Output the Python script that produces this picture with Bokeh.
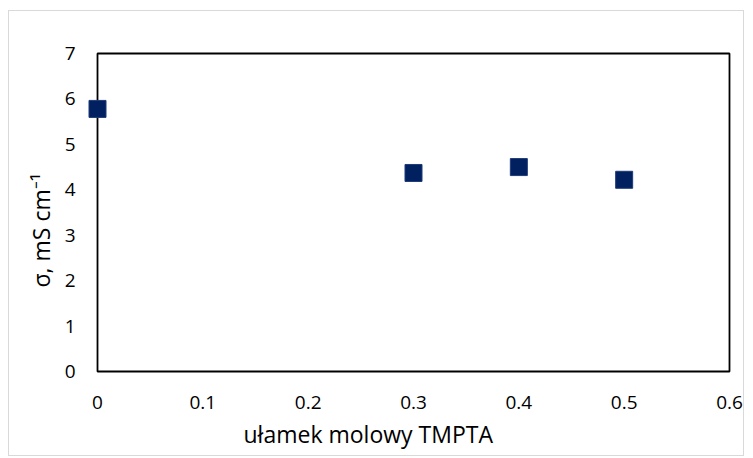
from bokeh.plotting import figure
from bokeh.models import Range1d, FixedTicker, BoxAnnotation, Title
from bokeh.embed import file_html
from bokeh.resources import INLINE

# data
x_fraction = [0.0, 0.3, 0.4, 0.5]
sigma = [5.78, 4.37, 4.50, 4.22]
x_ticks = [0, 0.1, 0.2, 0.3, 0.4, 0.5, 0.6]
x_tick_labels = ["0", "0.1", "0.2", "0.3", "0.4", "0.5", "0.6"]
y_ticks = [0, 1, 2, 3, 4, 5, 6, 7]
y_tick_labels = ["0", "1", "2", "3", "4", "5", "6", "7"]
x_title = "ułamek molowy TMPTA"
y_title = "σ, mS cm⁻¹"

FONT = "Open Sans"
W, H = 736, 446
# plot-area box is 0..0.6 x 0..7; frame is padded a little so markers on the edge are not clipped
p = figure(width=W, height=H, output_backend="svg", toolbar_location=None,
           x_range=Range1d(-0.0114, 0.6038), y_range=Range1d(-0.264, 7.264),
           min_border_left=76, min_border_right=12, min_border_top=30, min_border_bottom=74)
p.styles = {"border": "1px solid #d9d9d9", "margin-left": "8px", "margin-top": "10px"}
p.background_fill_color = "white"
p.border_fill_color = "white"
p.outline_line_color = None
p.xgrid.visible = False
p.ygrid.visible = False

p.add_layout(BoxAnnotation(left=x_ticks[0], right=x_ticks[-1], bottom=y_ticks[0], top=y_ticks[-1],
                           fill_alpha=0, line_color="black", line_alpha=1.0, line_width=1.8,
                           level="underlay"))

for ax, ticks, labels in ((p.xaxis, x_ticks, x_tick_labels), (p.yaxis, y_ticks, y_tick_labels)):
    ax.ticker = FixedTicker(ticks=ticks)
    ax.major_label_overrides = {t: l for t, l in zip(ticks, labels)}
    ax.axis_line_color = None
    ax.major_tick_line_color = None
    ax.minor_tick_line_color = None
    ax.major_tick_in = 0
    ax.major_tick_out = 0
    ax.major_label_text_font = FONT
    ax.major_label_text_font_size = "19px"
    ax.major_label_text_color = "black"
p.xaxis.major_label_standoff = 12
p.yaxis.major_label_standoff = 10

p.scatter(x_fraction, sigma, marker="square", size=17,
          fill_color="#002060", line_color="#1f3a78", line_width=1)

# axis titles, centred on the chart area as in the spreadsheet chart
p.add_layout(Title(text=x_title, align="left", offset=158, standoff=8, text_font=FONT,
                   text_font_size="23px", text_font_style="normal", text_color="black"), "below")
p.add_layout(Title(text=y_title, align="left", offset=96, standoff=10, text_font=FONT,
                   text_font_size="23px", text_font_style="normal", text_color="black"), "left")

open("out.html", "w").write(file_html(p, INLINE))
